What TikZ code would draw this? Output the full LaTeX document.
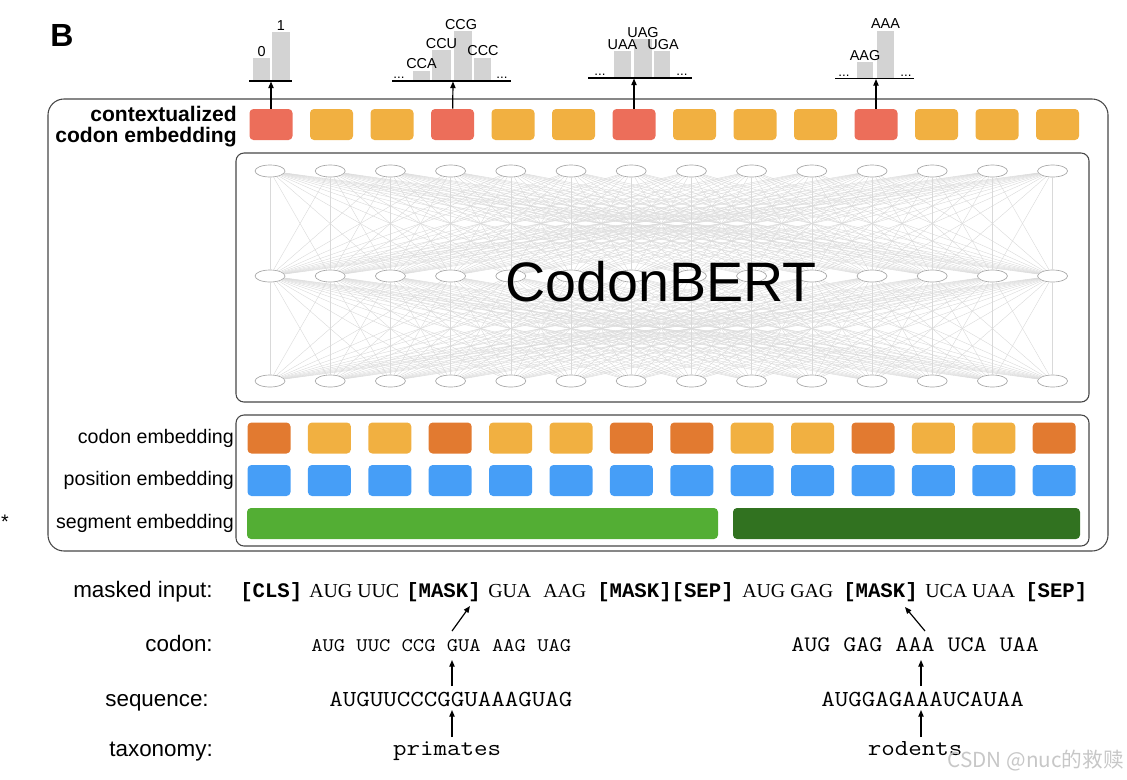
\documentclass[tikz,border=0pt]{standalone}
\usepackage{fontspec}
\setmainfont{Liberation Sans}
\newfontfamily\monofont{Liberation Mono}
\newfontfamily\courfont[FakeStretch=1.143]{Latin Modern Mono}
\newfontfamily\seriffont{Liberation Serif}
\newfontfamily\cjkfont{Noto Sans CJK SC}
\usetikzlibrary{arrows.meta,shapes.geometric}
\definecolor{ctxred}{RGB}{236,110,90}
\definecolor{lightorange}{RGB}{241,176,65}
\definecolor{darkorange}{RGB}{226,122,48}
\definecolor{posblue}{RGB}{70,158,247}
\definecolor{seggreen}{RGB}{83,174,52}
\definecolor{segdark}{RGB}{49,114,32}
\definecolor{bargray}{RGB}{211,211,211}
\definecolor{framegray}{RGB}{70,70,70}
\newcommand{\setfs}[1]{\fontsize{#1}{#1}\selectfont}
\begin{document}
\begin{tikzpicture}[x=0.75pt,y=-0.75pt,
  tok/.style={rectangle, rounded corners=3pt, minimum width=32.25pt, minimum height=23.25pt, inner sep=0pt},
  neuron/.style={ellipse, draw=black!35, fill=white, minimum width=22.5pt, minimum height=9pt, inner sep=0pt, line width=0.5pt},
  netline/.style={black!15, line width=0.3pt},
  frame/.style={draw=framegray, line width=0.8pt},
  bar/.style={fill=bargray},
  baseln/.style={line width=1.1pt},
  barlab/.style={anchor=south, inner sep=1pt, font=\setfs{10.8}},
  dots/.style={anchor=south, inner sep=0pt, font=\setfs{10}},
  arr/.style={line width=0.9pt, -{Triangle[length=5pt,width=4pt]}},
  emblab/.style={anchor=east, inner sep=0pt, font=\setfs{14.7}},
  botlab/.style={anchor=base east, inner sep=0pt, font=\setfs{16.8}},
  mtok/.style={anchor=base west, inner sep=0pt, font=\monofont\bfseries\setfs{15.5}},
  stok/.style={anchor=base west, inner sep=0pt, font=\seriffont\setfs{14.9}},
  ctok/.style={anchor=base west, inner sep=0pt}
]
\useasboundingbox (0,0) rectangle (1127,779);

% label B
\node[font=\bfseries\setfs{24}] (lb) at (62,35) {B};

% frames
\draw[frame, rounded corners=12pt] (48,99) rectangle (1108,551);
\draw[frame, rounded corners=6pt] (236,153) rectangle (1089,402);
\draw[frame, rounded corners=6pt] (236,415) rectangle (1089,546);

% contextualized codon embedding row
\foreach \i/\c in {0/ctxred,1/lightorange,2/lightorange,3/ctxred,4/lightorange,5/lightorange,6/ctxred,7/lightorange,8/lightorange,9/lightorange,10/ctxred,11/lightorange,12/lightorange,13/lightorange}
  \node[tok, fill=\c] (c\i) at ({271+60.5*\i},124.5) {};

\node[anchor=east, align=right, inner sep=0pt, font=\bfseries\setfs{15.8}] (lctx) at (237,126.5)
  {contextualized\\[-0.5pt]codon embedding};

% network
\foreach \i in {0,...,13} {
  \node[neuron] (na\i) at ({270+60.2*\i},171) {};
  \node[neuron] (nb\i) at ({270+60.2*\i},276) {};
  \node[neuron] (nc\i) at ({270+60.2*\i},381) {};
}
\foreach \i in {0,...,13}
  \foreach \j in {0,...,13} {
    \draw[netline] (na\i) -- (nb\j);
    \draw[netline] (nb\i) -- (nc\j);
  }
\node[font=\setfs{41.7}] (title) at (661,282) {CodonBERT};

% embeddings
\foreach \i/\c in {0/darkorange,1/lightorange,2/lightorange,3/darkorange,4/lightorange,5/lightorange,6/darkorange,7/darkorange,8/lightorange,9/lightorange,10/darkorange,11/lightorange,12/lightorange,13/darkorange} {
  \node[tok, fill=\c] (e\i) at ({269+60.4*\i},438) {};
  \node[tok, fill=posblue] (p\i) at ({269+60.4*\i},480.5) {};
}
\node[tok, fill=seggreen, minimum width=353.25pt] (sa) at (482.5,523.5) {};
\node[tok, fill=segdark, minimum width=260.25pt] (sb) at (906.5,523.5) {};

\node[emblab] (l1) at (234,438) {codon embedding};
\node[emblab] (l2) at (234,480) {position embedding};
\node[emblab] (l3) at (234,523) {segment embedding};
\node[font=\setfs{14.7}] (star) at (5,522) {*};

% histogram 1
\fill[bar] (253,80) rectangle (270,58);
\fill[bar] (272,80) rectangle (290,32);
\draw[baseln] (249,81) -- (292,81);
\node[barlab] (h1a) at (261.5,58) {0};
\node[barlab] (h1b) at (281,32) {1};
\coordinate (h1) at (271,81.5);
\draw[arr] (c0) -- (h1);

% histogram 2
\fill[bar] (413,80) rectangle (430,70.5);
\fill[bar] (432,80) rectangle (451,50);
\fill[bar] (454,80) rectangle (472,31);
\fill[bar] (474,80) rectangle (491,57.5);
\draw[baseln] (392,81) -- (511,81);
\node[dots] (d2a) at (399,79) {...};
\node[dots] (d2b) at (502,79) {...};
\node[barlab] (h2a) at (421.5,70.5) {CCA};
\node[barlab] (h2b) at (441.5,50) {CCU};
\node[barlab] (h2c) at (461,31) {CCG};
\node[barlab] (h2d) at (483,57.5) {CCC};
\coordinate (h2) at (453,81.5);
\draw[arr] (c3) -- (h2);

% histogram 3
\fill[bar] (614,77) rectangle (631,51);
\fill[bar] (634,77) rectangle (652,39);
\fill[bar] (654,77) rectangle (670,51);
\draw[baseln] (588,78) -- (692,78);
\node[dots] (d3a) at (600,76) {...};
\node[dots] (d3b) at (682,76) {...};
\node[barlab] (h3a) at (622.5,51) {UAA};
\node[barlab] (h3b) at (643,39) {UAG};
\node[barlab] (h3c) at (663,51) {UGA};
\coordinate (h3) at (634,78.5);
\draw[arr] (c6) -- (h3);

% histogram 4
\fill[bar] (857,77.5) rectangle (873,62);
\fill[bar] (877,77.5) rectangle (894,30.5);
\draw[baseln] (835,78.5) -- (914,78.5);
\node[dots] (d4a) at (844,76.5) {...};
\node[dots] (d4b) at (906,76.5) {...};
\node[barlab] (h4a) at (865,62) {AAG};
\node[barlab] (h4b) at (885.5,30.5) {AAA};
\coordinate (h4) at (876,79);
\draw[arr] (c10) -- (h4);

% bottom labels
\node[botlab] (bl1) at (213,597) {masked input:};
\node[botlab] (bl2) at (213,651) {codon:};
\node[botlab] (bl3) at (209,706) {sequence:};
\node[botlab] (bl4) at (213,756) {taxonomy:};

% masked input tokens
\node[mtok] (m1) at (240,597) {[CLS]};
\node[stok] (m2) at (309,597) {AUG UUC};
\node[mtok] (m3) at (406,597) {[MASK]};
\node[stok] (m4) at (488,597) {GUA};
\node[stok] (m5) at (543,597) {AAG};
\node[mtok] (m6) at (597,597) {[MASK][SEP]};
\node[stok] (m7) at (742,597) {AUG GAG};
\node[mtok] (m8) at (843,597) {[MASK]};
\node[stok] (m9) at (925,597) {UCA UAA};
\node[mtok] (m10) at (1025,597) {[SEP]};

% codon lines
\node[ctok, font=\courfont\setfs{14.4}] (cl) at (311,651) {AUG UUC CCG GUA AAG UAG};
\node[ctok, font=\courfont\setfs{16.6}] (cr) at (791,651) {AUG GAG AAA UCA UAA};
% sequence lines
\node[ctok, font=\courfont\setfs{17.2}] (sl) at (329,706) {AUGUUCCCGGUAAAGUAG};
\node[ctok, font=\courfont\setfs{17.2}] (sr) at (821,706) {AUGGAGAAAUCAUAA};
% taxonomy
\node[anchor=base, inner sep=0pt, font=\courfont\setfs{17.2}] (tl) at (447,755) {primates};
\node[anchor=base, inner sep=0pt, font=\courfont\setfs{17.2}] (tr) at (915,755) {rodents};

% bottom arrows
\coordinate (a1s) at (452,631); \coordinate (a1e) at (470,606);
\coordinate (a2s) at (452,686); \coordinate (a2e) at (452,660);
\coordinate (a3s) at (452,737); \coordinate (a3e) at (452,710);
\coordinate (b1s) at (925,631); \coordinate (b1e) at (905,607);
\coordinate (b2s) at (921,686); \coordinate (b2e) at (921,660);
\coordinate (b3s) at (921,737); \coordinate (b3e) at (921,710);
\draw[arr] (a1s) -- (a1e);
\draw[arr] (a2s) -- (a2e);
\draw[arr] (a3s) -- (a3e);
\draw[arr] (b1s) -- (b1e);
\draw[arr] (b2s) -- (b2e);
\draw[arr] (b3s) -- (b3e);

% watermark
\node[anchor=base east, inner sep=0pt, text=black!22, font=\cjkfont\setfs{15.5}] (wm) at (1124,767) {CSDN @nuc的救赎};
\end{tikzpicture}
\end{document}
